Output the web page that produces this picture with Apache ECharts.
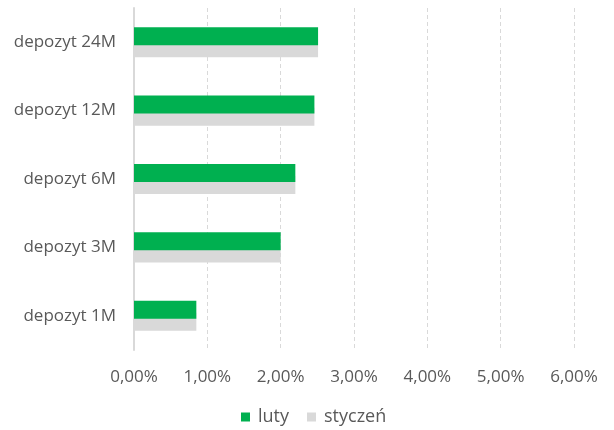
<!DOCTYPE html>
<html><head><meta charset="utf-8">
<script src="https://cdn.jsdelivr.net/npm/echarts@6/dist/echarts.min.js"></script>
<style>html,body{margin:0;padding:0;background:#fff}#c{width:614px;height:430px}</style>
</head><body><div id="c"></div>
<script>
const categories = ['depozyt 1M','depozyt 3M','depozyt 6M','depozyt 12M','depozyt 24M'];
const luty = [0.85, 2.00, 2.20, 2.46, 2.51];
const styczen = [0.85, 2.00, 2.20, 2.46, 2.51];
const font = '"Open Sans", "Noto Sans", sans-serif';
const chart = echarts.init(document.getElementById('c'));
chart.setOption({
  animation: false,
  textStyle: {fontFamily: font},
  grid: {left: 134, right: 40, top: 8, bottom: 80, containLabel: false},
  legend: {
    data: ['luty','styczeń'], bottom: -1, left: 236, itemWidth: 9, itemHeight: 9, itemGap: 18,
    icon: 'rect', textStyle: {color: '#595959', fontSize: 18, fontFamily: font, padding: [0,0,0,3]}
  },
  xAxis: {
    type: 'value', min: 0, max: 6, interval: 1,
    axisLine: {show: false}, axisTick: {show: false},
    splitLine: {show: true, lineStyle: {color: '#d9d9d9', type: [4,3], width: 1}},
    axisLabel: {color: '#595959', fontSize: 17, margin: 19, fontFamily: font,
      formatter: v => v.toFixed(2).replace('.', ',') + '%'}
  },
  yAxis: {
    type: 'category', data: categories,
    axisLine: {show: true, lineStyle: {color: '#d9d9d9', width: 2}},
    axisTick: {show: false},
    axisLabel: {color: '#595959', fontSize: 17, margin: 18, fontFamily: font}
  },
  series: [
    {name: 'luty', type: 'bar', z: 3, data: luty, barWidth: 18, barGap: '-33%', itemStyle: {color: '#00b050'}},
    {name: 'styczeń', type: 'bar', z: 2, data: styczen, barWidth: 18, barGap: '-33%', itemStyle: {color: '#d9d9d9'}}
  ]
});
</script></body></html>
